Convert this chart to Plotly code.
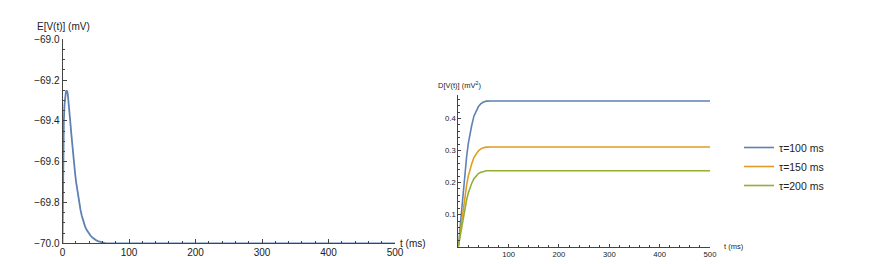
import plotly.graph_objects as go

# ---- data ----
t_mean = [0, 0.5, 1, 1.5, 2, 3, 4, 5, 6, 7, 8, 9, 10, 11, 12, 13, 14, 15, 16, 17.5, 19, 20.5, 22, 23.5,
          25, 27, 29, 31.5, 34, 36.5, 39, 42, 45, 48, 51, 54.5, 58, 61.5, 65, 72, 80, 500]
v_mean = [-70, -69.7, -69.55, -69.46, -69.4, -69.32, -69.28, -69.26, -69.25, -69.255, -69.27, -69.3,
          -69.335, -69.375, -69.415, -69.455, -69.495, -69.53, -69.565, -69.615, -69.66, -69.70,
          -69.735, -69.77, -69.80, -69.835, -69.865, -69.895, -69.918, -69.935, -69.949, -69.962,
          -69.972, -69.98, -69.986, -69.991, -69.995, -69.998, -70, -70, -70, -70]

t_var = [0, 2, 4, 7, 10, 13, 16.6, 20, 23, 26.5, 31, 36.5, 40, 45, 50, 56, 65, 500]
var_100 = [0, 0.036, 0.073, 0.127, 0.177, 0.232, 0.282, 0.323, 0.352, 0.377, 0.407, 0.427, 0.437,
           0.446, 0.451, 0.4538, 0.4545, 0.4545]
var_150 = [0, 0.025, 0.050, 0.087, 0.121, 0.159, 0.193, 0.221, 0.241, 0.258, 0.278, 0.292, 0.299,
           0.305, 0.3087, 0.3105, 0.311, 0.311]
var_200 = [0, 0.019, 0.038, 0.066, 0.092, 0.121, 0.147, 0.168, 0.184, 0.197, 0.212, 0.223, 0.228,
           0.232, 0.2352, 0.2366, 0.237, 0.237]
labels = ["τ=100 ms", "τ=150 ms", "τ=200 ms"]
colors = ["#5E81B5", "#E19C24", "#8FB032"]

left_y_ticks = [-70.0, -69.8, -69.6, -69.4, -69.2, -69.0]
left_x_ticks = [0, 100, 200, 300, 400, 500]
right_y_ticks = [0.1, 0.2, 0.3, 0.4]
right_x_ticks = [100, 200, 300, 400, 500]

# the page body has an 8px margin; the figure is sized to fit the 872x264 window
OFF = 8
W, H = 864, 256
FONT = "Liberation Sans, Arial, sans-serif"
AX = "#444444"

fig = go.Figure()
fig.add_trace(go.Scatter(x=t_mean, y=v_mean, mode="lines",
                         line=dict(color=colors[0], width=1.8),
                         xaxis="x", yaxis="y", showlegend=False))
for vals, lab, col in zip([var_100, var_150, var_200], labels, colors):
    fig.add_trace(go.Scatter(x=t_var, y=vals, mode="lines", name=lab,
                             line=dict(color=col, width=1.6),
                             xaxis="x2", yaxis="y2"))

def px_x(p):
    return (p - OFF) / W

def px_y(p):
    return 1 - (p - OFF) / H

common = dict(showgrid=False, zeroline=False, showline=True, linecolor=AX, linewidth=1,
              ticks="inside", tickcolor=AX, tickwidth=1, mirror=False, automargin=False)

fig.update_layout(
    width=W, height=H, margin=dict(l=0, r=0, t=0, b=0, autoexpand=False),
    paper_bgcolor="white", plot_bgcolor="white",
    font=dict(family=FONT, color="#222222"),
    xaxis=dict(common, domain=[px_x(62.5), px_x(395)], range=[0, 500], anchor="y",
               tickvals=left_x_ticks, ticklen=4, tickfont=dict(size=10),
               minor=dict(dtick=20, ticklen=2.5, ticks="inside", tickcolor=AX)),
    yaxis=dict(common, domain=[px_y(243.3), px_y(39.4)], range=[-70, -69.0], anchor="x",
               tickvals=left_y_ticks, tickformat=".1f", ticklen=4, tickfont=dict(size=10),
               minor=dict(dtick=0.05, ticklen=2.5, ticks="inside", tickcolor=AX)),
    xaxis2=dict(common, domain=[px_x(458.3), px_x(710)], range=[0, 500], anchor="y2",
                tickvals=right_x_ticks, ticklen=3, tickfont=dict(size=7.7),
                minor=dict(dtick=20, ticklen=2, ticks="inside", tickcolor=AX)),
    yaxis2=dict(common, domain=[px_y(246.7), px_y(95)], range=[0, 0.473], anchor="x2",
                tickvals=right_y_ticks, tickformat=".1f", ticklen=3, tickfont=dict(size=7.7),
                minor=dict(dtick=0.02, ticklen=2, ticks="inside", tickcolor=AX)),
    legend=dict(x=px_x(739), y=px_y(133), xanchor="left", yanchor="top",
                font=dict(size=10.5, family=FONT), bgcolor="rgba(0,0,0,0)", itemwidth=30,
                tracegroupgap=0),
)

fig.add_annotation(text="E[V(t)] (mV)", x=px_x(35), y=px_y(26), xref="paper", yref="paper",
                   xanchor="left", yanchor="middle", showarrow=False, font=dict(size=10))
fig.add_annotation(text="t (ms)", x=px_x(398), y=px_y(243), xref="paper", yref="paper",
                   xanchor="left", yanchor="middle", showarrow=False, font=dict(size=10))
fig.add_annotation(text="D[V(t)] (mV<sup>2</sup>)", x=px_x(436), y=px_y(84.5), xref="paper", yref="paper",
                   xanchor="left", yanchor="middle", showarrow=False, font=dict(size=7.5))
fig.add_annotation(text="t (ms)", x=px_x(721.5), y=px_y(246.7), xref="paper", yref="paper",
                   xanchor="left", yanchor="middle", showarrow=False, font=dict(size=7.5))

fig.write_html("out.html")
